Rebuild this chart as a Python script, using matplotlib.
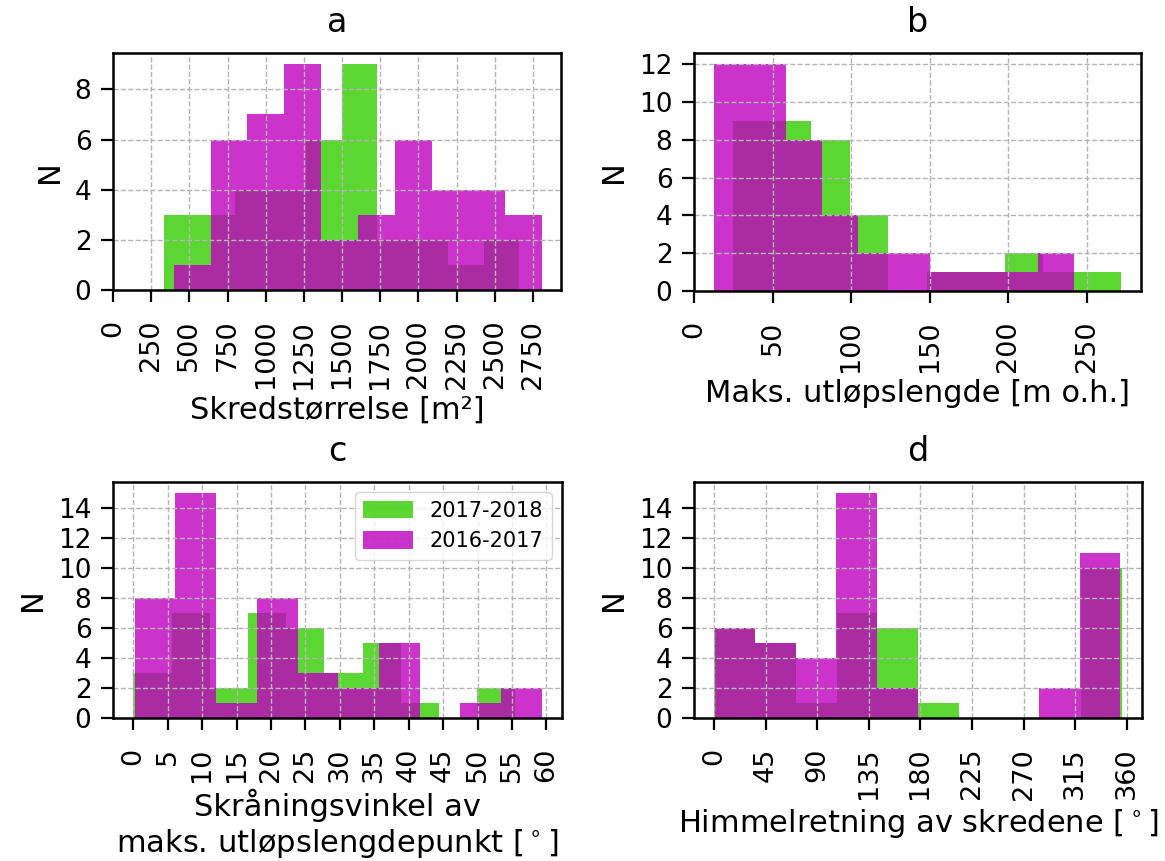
import numpy as np
import matplotlib
matplotlib.use("Agg")
import matplotlib.pyplot as plt

# counts per bin (10 bins per series)
# 2017-2018 (green) and 2016-2017 (magenta); bin ranges = (min, max) of each series
size_green = [3, 3, 4, 4, 6, 9, 2, 2, 1, 2]
size_green_range = (333, 2660)
size_mag = [1, 6, 7, 9, 2, 3, 6, 4, 4, 3]
size_mag_range = (398, 2810)

run_green = [9, 9, 8, 4, 0, 1, 1, 2, 1, 1]
run_green_range = (25.1, 271.5)
run_mag = [12, 12, 8, 4, 2, 2, 1, 1, 1, 2]
run_mag_range = (13.0, 241.5)

slope_green = [3, 7, 2, 7, 6, 3, 5, 1, 0, 2]
slope_green_range = (0.0, 55.5)
slope_mag = [8, 15, 1, 8, 3, 2, 5, 0, 1, 2]
slope_mag_range = (0.2, 59.3)

aspect_green = [6, 5, 1, 7, 6, 1, 0, 0, 0, 10]
aspect_green_range = (0.3, 355.5)
aspect_mag = [6, 5, 4, 15, 2, 0, 0, 0, 2, 11]
aspect_mag_range = (0.6, 354.4)

labels = ["2017-2018", "2016-2017"]
size_ticks = list(range(0, 2751, 250))
run_ticks = list(range(0, 251, 50))
slope_ticks = list(range(0, 61, 5))
aspect_ticks = list(range(0, 361, 45))

GREEN = (0.2, 0.8, 0.0)
MAG = "m"


def draw_hist(ax, counts, rng, color, label):
    edges = np.linspace(rng[0], rng[1], len(counts) + 1)
    centers = (edges[:-1] + edges[1:]) / 2
    ax.hist(centers, bins=edges, weights=counts, color=color, alpha=0.8, label=label)


def style(ax, title, xlabel, ticks, ymax):
    ax.set_title(title, fontsize=24, pad=15)
    ax.set_ylabel("N", fontsize=22, labelpad=8)
    ax.set_xlabel(xlabel, fontsize=22, labelpad=5)
    ax.set_xticks(ticks)
    ax.set_yticks(range(0, ymax + 1, 2))
    ax.tick_params(axis="x", labelrotation=90, labelsize=19.5, length=8.5, width=1.6, pad=13)
    ax.tick_params(axis="y", labelsize=19, length=8.5, width=1.6, pad=7)
    ax.grid(True, linestyle="--", color="#b5b5b5", linewidth=1)
    for s in ax.spines.values():
        s.set_linewidth(1.8)


fig = plt.figure(figsize=(11.65, 8.61), dpi=100)
W, H = 1165, 861


def box(l, r, t, b):
    return [l / W, 1 - b / H, (r - l) / W, (b - t) / H]


ax_a = fig.add_axes(box(113, 561, 53, 290))
ax_b = fig.add_axes(box(694, 1141, 53, 291))
ax_c = fig.add_axes(box(113, 562, 482, 718))
ax_d = fig.add_axes(box(694, 1142, 482, 718))

draw_hist(ax_a, size_green, size_green_range, GREEN, labels[0])
draw_hist(ax_a, size_mag, size_mag_range, MAG, labels[1])
ax_a.set_xlim(left=0)
style(ax_a, "a", "Skredstørrelse [m²]", size_ticks, 8)

draw_hist(ax_b, run_green, run_green_range, GREEN, labels[0])
draw_hist(ax_b, run_mag, run_mag_range, MAG, labels[1])
ax_b.set_xlim(left=0)
style(ax_b, "b", "Maks. utløpslengde [m o.h.]", run_ticks, 12)

draw_hist(ax_c, slope_green, slope_green_range, GREEN, labels[0])
draw_hist(ax_c, slope_mag, slope_mag_range, MAG, labels[1])
style(ax_c, "c", "Skråningsvinkel av\nmaks. utløpslengdepunkt [$^\\circ$]", slope_ticks, 14)
ax_c.legend(loc="upper right", fontsize=15, handlelength=2.4, handleheight=0.9)

draw_hist(ax_d, aspect_green, aspect_green_range, GREEN, labels[0])
draw_hist(ax_d, aspect_mag, aspect_mag_range, MAG, labels[1])
style(ax_d, "d", "Himmelretning av skredene [$^\\circ$]", aspect_ticks, 14)

fig.savefig("out.png", dpi=100)
